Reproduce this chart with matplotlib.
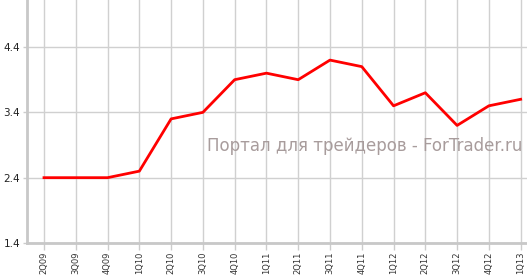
import matplotlib
matplotlib.use("Agg")
import matplotlib.pyplot as plt

quarters = ["2Q09", "3Q09", "4Q09", "1Q10", "2Q10", "3Q10", "4Q10", "1Q11", "2Q11",
            "3Q11", "4Q11", "1Q12", "2Q12", "3Q12", "4Q12", "1Q13"]
values = [2.4, 2.4, 2.4, 2.5, 3.3, 3.4, 3.9, 4.0, 3.9, 4.2, 4.1, 3.5, 3.7, 3.2, 3.5, 3.6]
y_ticks = [1.4, 2.4, 3.4, 4.4]

fig = plt.figure(figsize=(5.27, 2.75), dpi=100)
ax = fig.add_axes([27 / 527, 32 / 275, 500 / 527, 243 / 275])

x = list(range(len(quarters)))
ax.plot(x, values, color="#ff0000", lw=2, zorder=3)

ax.set_xlim(-0.535, 15.2)
ax.set_ylim(1.4, 5.12)
ax.set_xticks(x)
ax.set_xticklabels(quarters, rotation=90, fontsize=6, color="#333333")
ax.set_yticks(y_ticks)
ax.set_yticklabels([f"{v:.1f}" for v in y_ticks], fontsize=7.5, color="#222222")
ax.grid(True, color="#d0d0d0", lw=1.0)
ax.set_axisbelow(True)
for side in ["top", "right"]:
    ax.spines[side].set_visible(False)
for side in ["left", "bottom"]:
    ax.spines[side].set_color("#c8c8c8")
    ax.spines[side].set_linewidth(2)
ax.tick_params(axis="x", length=5, color="#cccccc", width=1.0, pad=1)
ax.tick_params(axis="y", length=3, color="#cccccc", width=1.0, pad=2)

ax.text(0.99, 0.4, "Портал для трейдеров - ForTrader.ru", transform=ax.transAxes,
        ha="right", va="center", fontsize=12, color="#a89c9c")

fig.savefig("out.png", dpi=100)
